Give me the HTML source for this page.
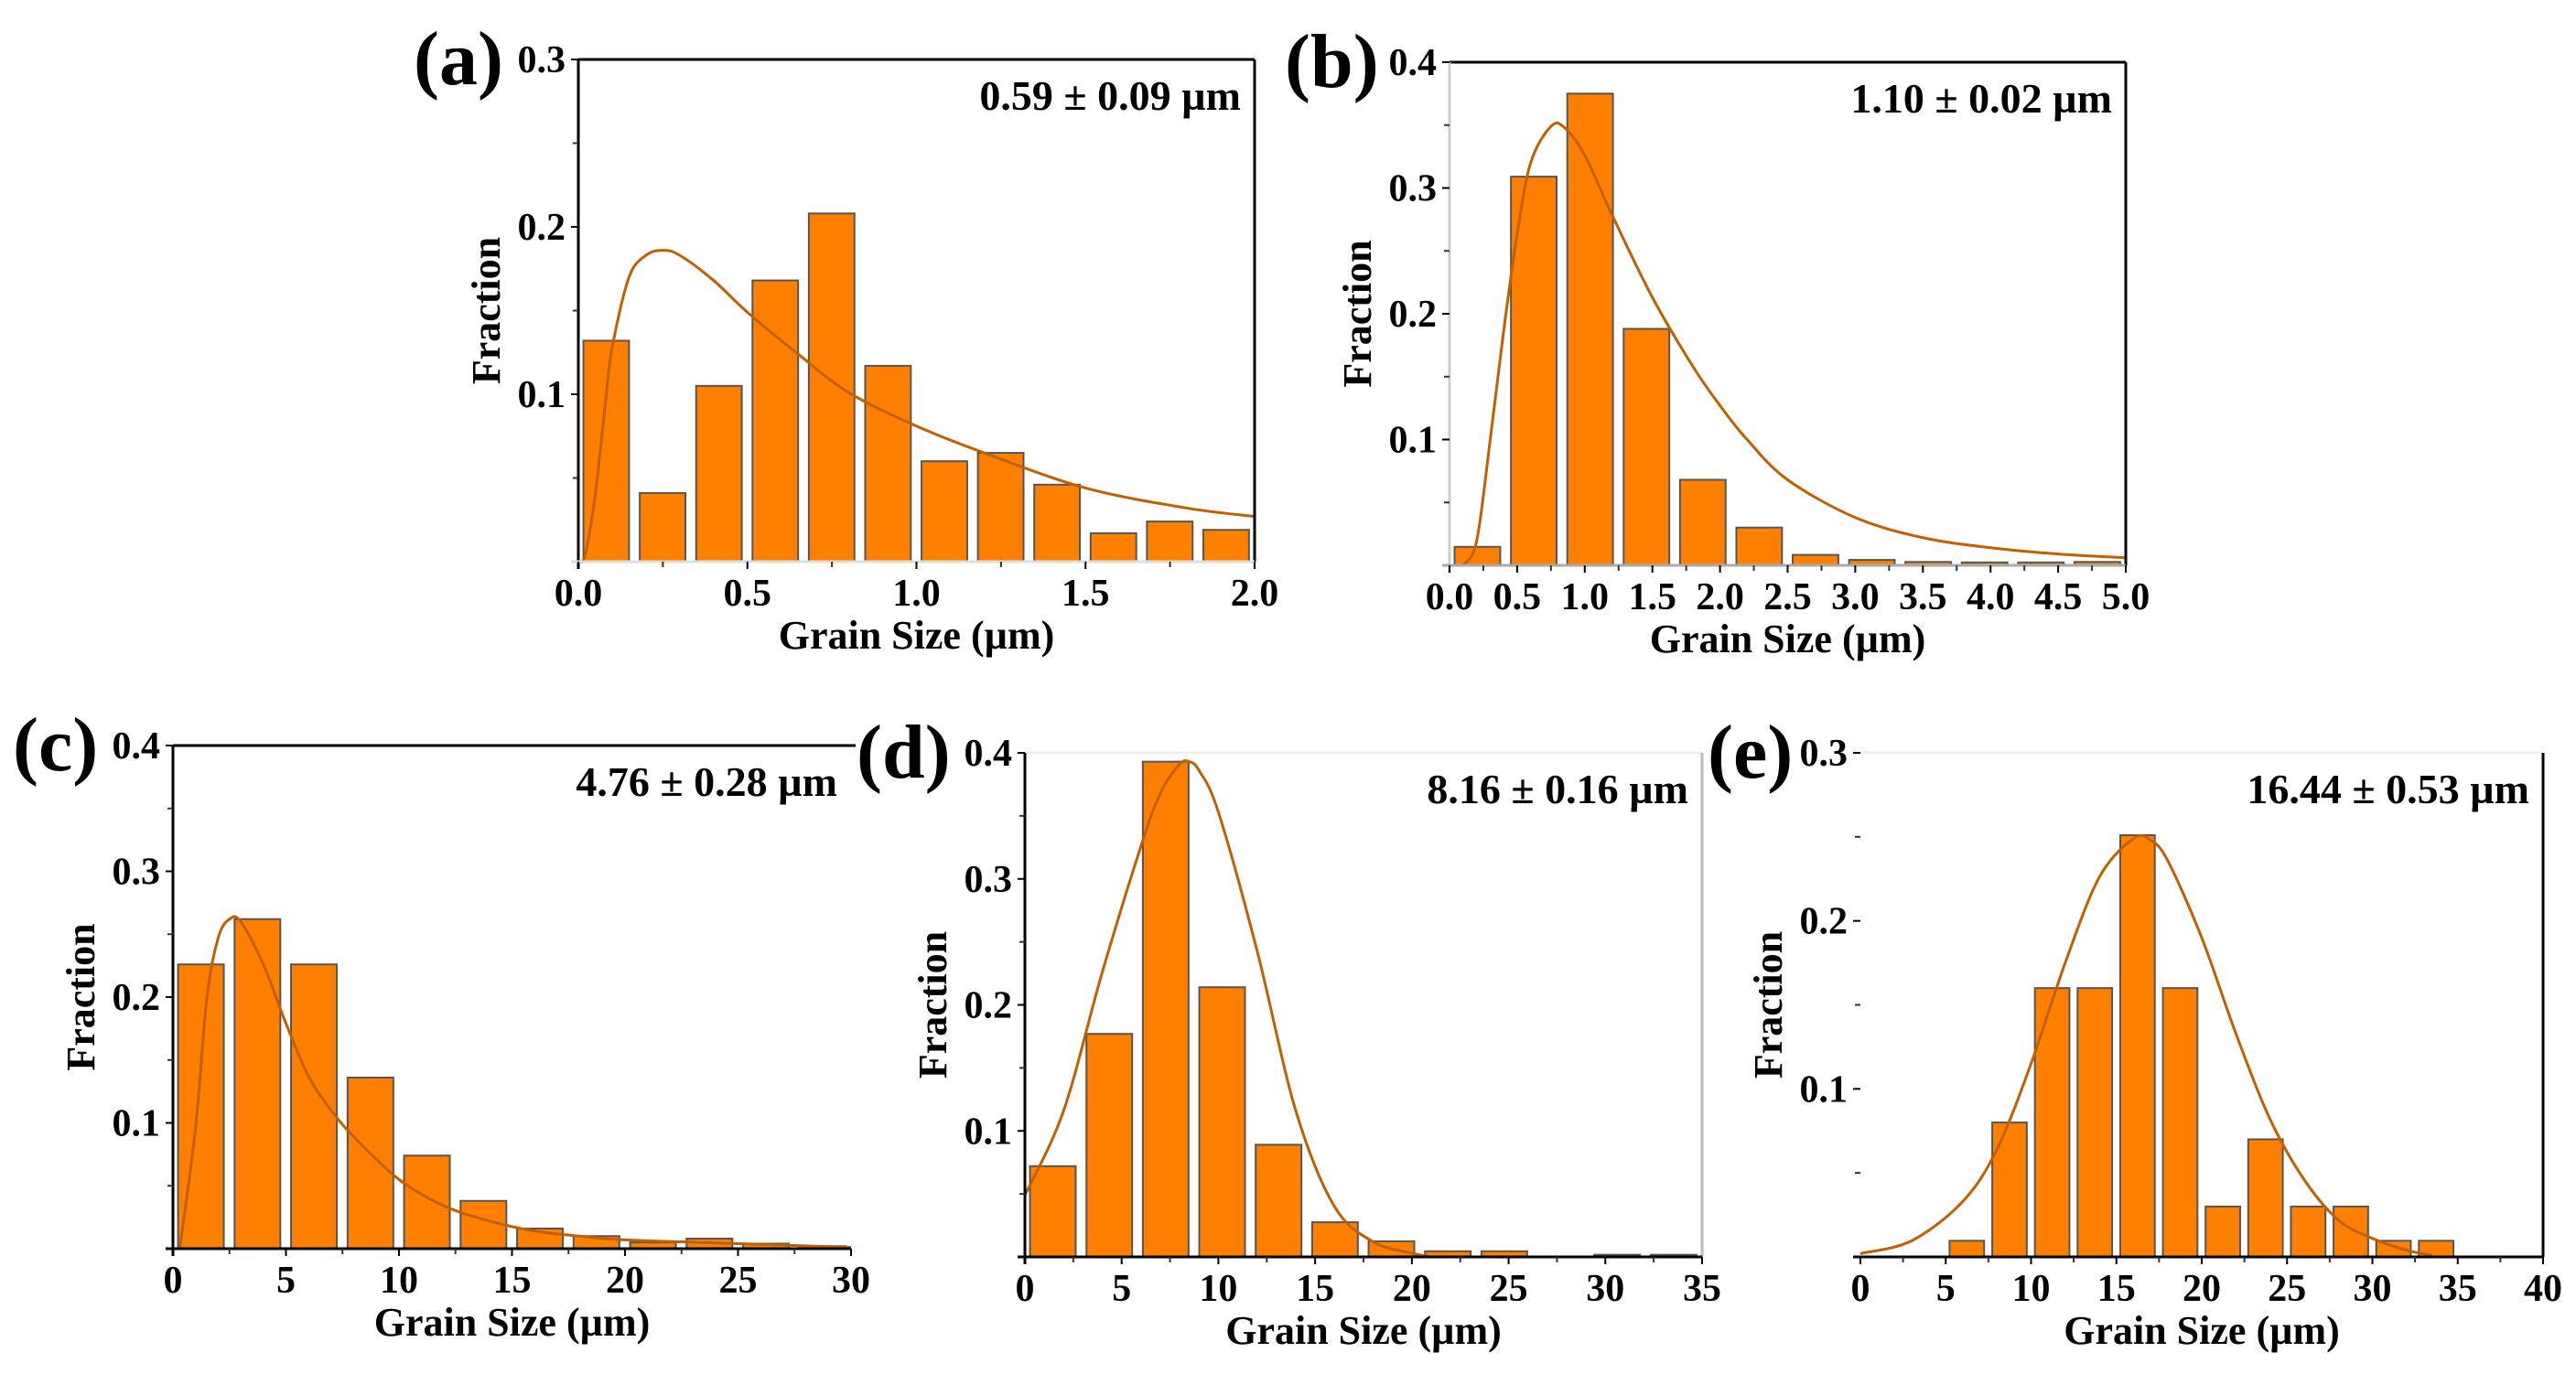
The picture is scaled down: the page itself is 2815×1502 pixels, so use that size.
<!DOCTYPE html>
<html><head><meta charset="utf-8"><style>
html,body{margin:0;padding:0;background:#fff;}
svg{display:block;}
text{font-family:"Liberation Serif",serif;font-weight:bold;fill:#000;}
</style></head><body>
<svg id="fig" width="2815" height="1502" viewBox="0 0 2815 1502" xmlns="http://www.w3.org/2000/svg"></svg>
<script>
// Panel (a)
const aBars = [0.132,0.041,0.105,0.168,0.208,0.117,0.060,0.065,0.046,0.017,0.024,0.019];
const aCurveX = [0,0.02,0.05,0.08,0.1,0.15,0.2,0.25,0.3,0.4,0.5,0.65,0.8,1.0,1.2,1.5,1.8,2.0];
const aCurveY = [0,0.004,0.04,0.095,0.128,0.170,0.183,0.186,0.183,0.168,0.149,0.124,0.101,0.081,0.065,0.044,0.032,0.027];
const aXTicks = ["0.0","0.5","1.0","1.5","2.0"];
const aYTicks = ["0.1","0.2","0.3"];
// Panel (b)
const bBars = [0.0147,0.309,0.375,0.188,0.068,0.030,0.0083,0.0043,0.0027,0.0023,0.0023,0.0027];
const bCurveX = [0.1,0.2,0.3,0.4,0.5,0.6,0.75,0.85,1.0,1.2,1.5,1.8,2.0,2.2,2.5,3.0,3.5,4.0,4.5,5.0];
const bCurveY = [0.0,0.019,0.099,0.186,0.263,0.32,0.349,0.348,0.326,0.279,0.213,0.158,0.127,0.100,0.068,0.038,0.022,0.014,0.009,0.006];
const bXTicks = ["0.0","0.5","1.0","1.5","2.0","2.5","3.0","3.5","4.0","4.5","5.0"];
const bYTicks = ["0.1","0.2","0.3","0.4"];
// Panel (c)
const cBars = [0.226,0.262,0.226,0.136,0.074,0.038,0.016,0.010,0.005,0.008,0.004,0.002];
const cCurveX = [0.3,1,1.5,2,2.5,3,4,5,6,7,8,10,12,14,16,18,20,25,30];
const cCurveY = [0,0.096,0.199,0.247,0.262,0.26,0.226,0.179,0.137,0.110,0.089,0.055,0.034,0.022,0.014,0.010,0.007,0.004,0.001];
const cXTicks = ["0","5","10","15","20","25","30"];
const cYTicks = ["0.1","0.2","0.3","0.4"];
// Panel (d)
const dBars = [0.072,0.177,0.393,0.214,0.089,0.0275,0.0124,0.0045,0.0045,0,0.0017,0.0017];
const dCurveX = [0,2,4,6,7,8,8.5,9,10,12,14,16,18,20,21];
const dCurveY = [0.049,0.116,0.226,0.326,0.368,0.391,0.393,0.386,0.353,0.243,0.116,0.040,0.012,0.003,0];
const dXTicks = ["0","5","10","15","20","25","30","35"];
const dYTicks = ["0.1","0.2","0.3","0.4"];
// Panel (e)
const eBars = [0.0096,0.080,0.160,0.160,0.251,0.160,0.030,0.070,0.030,0.030,0.0096,0.0096];
const eCurveX = [0,3,6,8,10,12,14,16,17,18,20,22,24,26,28,30,32,33.5];
const eCurveY = [0.002,0.0096,0.033,0.064,0.115,0.175,0.226,0.249,0.248,0.236,0.19,0.133,0.082,0.046,0.022,0.011,0.004,0.001];
const eXTicks = ["0","5","10","15","20","25","30","35","40"];
const eYTicks = ["0.1","0.2","0.3"];

const NS="http://www.w3.org/2000/svg";
const fig=document.getElementById('fig');
function mk(tag,attrs,parent){const e=document.createElementNS(NS,tag);for(const k in attrs)e.setAttribute(k,attrs[k]);(parent||fig).appendChild(e);return e;}

const panels=[
 {id:'a',L:632,R:1371,T:65,B:614,xmax:2,ymax:0.3,x0:0,bw:2/12,bars:aBars,cx:aCurveX,cy:aCurveY,xt:aXTicks,xstep:0.5,yt:aYTicks,ystep:0.1,minorY:0.05,minorX:0.25,
  top:'#000',right:'#000',left:'#000',bottom:'#ddd',label:'(a)',lx:452,ly:92,ann:'0.59 ± 0.09 µm'},
 {id:'b',L:1584,R:2323,T:68,B:618,xmax:5,ymax:0.4,x0:0,bw:5/12,bars:bBars,cx:bCurveX,cy:bCurveY,xt:bXTicks,xstep:0.5,yt:bYTicks,ystep:0.1,minorY:0.05,minorX:0.25,
  top:'#000',right:'#000',left:'#ccc',bottom:'#aaa',label:'(b)',lx:1404,ly:95,ann:'1.10 ± 0.02 µm'},
 {id:'c',L:189,R:930,T:815,B:1365,xmax:30,ymax:0.4,x0:0,bw:2.5,bars:cBars,cx:cCurveX,cy:cCurveY,xt:cXTicks,xstep:5,yt:cYTicks,ystep:0.1,minorY:0.05,minorX:2.5,
  top:'#000',topExt:935,right:null,left:'#000',bottom:'#000',label:'(c)',lx:14,ly:842,ann:'4.76 ± 0.28 µm'},
 {id:'d',L:1120,R:1860,T:823,B:1374,xmax:35,ymax:0.4,x0:0,bw:35/12,bars:dBars,cx:dCurveX,cy:dCurveY,xt:dXTicks,xstep:5,yt:dYTicks,ystep:0.1,minorY:0.05,minorX:2.5,
  top:'#eee',right:'#bbb',left:'#000',bottom:'#000',label:'(d)',lx:936,ly:850,ann:'8.16 ± 0.16 µm'},
 {id:'e',L:2033,R:2779,T:823,B:1374,xmax:40,ymax:0.3,x0:5,bw:2.5,bars:eBars,cx:eCurveX,cy:eCurveY,xt:eXTicks,xstep:5,yt:eYTicks,ystep:0.1,minorY:0.05,minorX:2.5,
  top:'#eee',right:'#000',left:null,bottom:'#000',label:'(e)',lx:1866,ly:850,ann:'16.44 ± 0.53 µm'}
];

panels.forEach(p=>{
 const g=mk('g',{});
 
 
 const X=v=>p.L+(v/p.xmax)*(p.R-p.L);
 const Y=v=>p.B-(v/p.ymax)*(p.B-p.T);
 p.bars.forEach((v,i)=>{
   const s=p.x0+i*p.bw;
   const x1=X(s+p.bw*0.09), x2=X(s+p.bw*0.9);
   if(v<=0) return;
   const r=mk('rect',{x:x1,y:Y(v),width:x2-x1,height:p.B-Y(v),fill:'#FF8000',stroke:'#555','stroke-width':2},g);
   
   
 });
 const pts=p.cx.map((x,i)=>[X(x),Y(p.cy[i])]);
 let d='M'+pts[0][0]+','+pts[0][1];
 for(let i=0;i<pts.length-1;i++){
   const p0=pts[Math.max(0,i-1)],p1=pts[i],p2=pts[i+1],p3=pts[Math.min(pts.length-1,i+2)];
   const c1=[p1[0]+(p2[0]-p0[0])/6,p1[1]+(p2[1]-p0[1])/6];
   const c2=[p2[0]-(p3[0]-p1[0])/6,p2[1]-(p3[1]-p1[1])/6];
   d+=' C'+c1[0]+','+c1[1]+' '+c2[0]+','+c2[1]+' '+p2[0]+','+p2[1];
 }
 const cv=mk('path',{d:d,fill:'none',stroke:'#C06000','stroke-width':3},g);
 
 
 if(p.top){const l=mk('line',{x1:p.L,y1:p.T,x2:p.topExt||p.R,y2:p.T,stroke:p.top,'stroke-width':3},g);}
 if(p.right){const l=mk('line',{x1:p.R,y1:p.T,x2:p.R,y2:p.B,stroke:p.right,'stroke-width':3},g);}
 if(p.left){const l=mk('line',{x1:p.L,y1:p.T,x2:p.L,y2:p.B+8,stroke:p.left,'stroke-width':3},g);}
 const bl=mk('line',{x1:p.L-8,y1:p.B,x2:p.R,y2:p.B,stroke:p.bottom,'stroke-width':3},g);
 
 
 p.xt.forEach((t,i)=>{
   const x=X(i*p.xstep);
   mk('line',{x1:x,y1:p.B,x2:x,y2:p.B+8,stroke:'#000','stroke-width':2},g);
   const tx=mk('text',{x:x,y:p.B+48,'font-size':42,'text-anchor':'middle'},g);
   tx.textContent=t;
   
   
 });
 for(let v=p.minorX;v<p.xmax;v+=p.xstep){const x=X(v);mk('line',{x1:x,y1:p.B,x2:x,y2:p.B+6,stroke:'#333','stroke-width':2},g);}
 p.yt.forEach((t,i)=>{
   const y=Y((i+1)*p.ystep);
   mk('line',{x1:p.L-8,y1:y,x2:p.L,y2:y,stroke:'#000','stroke-width':2},g);
   const tx=mk('text',{x:p.L-14,y:y+14,'font-size':42,'text-anchor':'end'},g);
   tx.textContent=t;
   
   
 });
 for(let v=p.minorY;v<p.ymax;v+=p.ystep){const y=Y(v);mk('line',{x1:p.L-6,y1:y,x2:p.L,y2:y,stroke:'#333','stroke-width':2},g);}
 const xt=mk('text',{x:(p.L+p.R)/2,y:p.B+95,'font-size':44,'text-anchor':'middle'},g);
 xt.textContent='Grain Size (µm)';
 
 
 const yx=p.L-86, yy=(p.T+p.B)/2;
 const yt=mk('text',{x:yx,y:yy,'font-size':44,'text-anchor':'middle',transform:'rotate(-90 '+yx+' '+yy+')'},g);
 yt.textContent='Fraction';
 
 
 const lb=mk('text',{x:p.lx,y:p.ly,'font-size':84},g);
 lb.textContent=p.label;
 
 
 const an=mk('text',{x:p.R-15,y:p.T+55,'font-size':46,'text-anchor':'end'},g);
 an.textContent=p.ann;
 
 
});
</script>
</body></html>
